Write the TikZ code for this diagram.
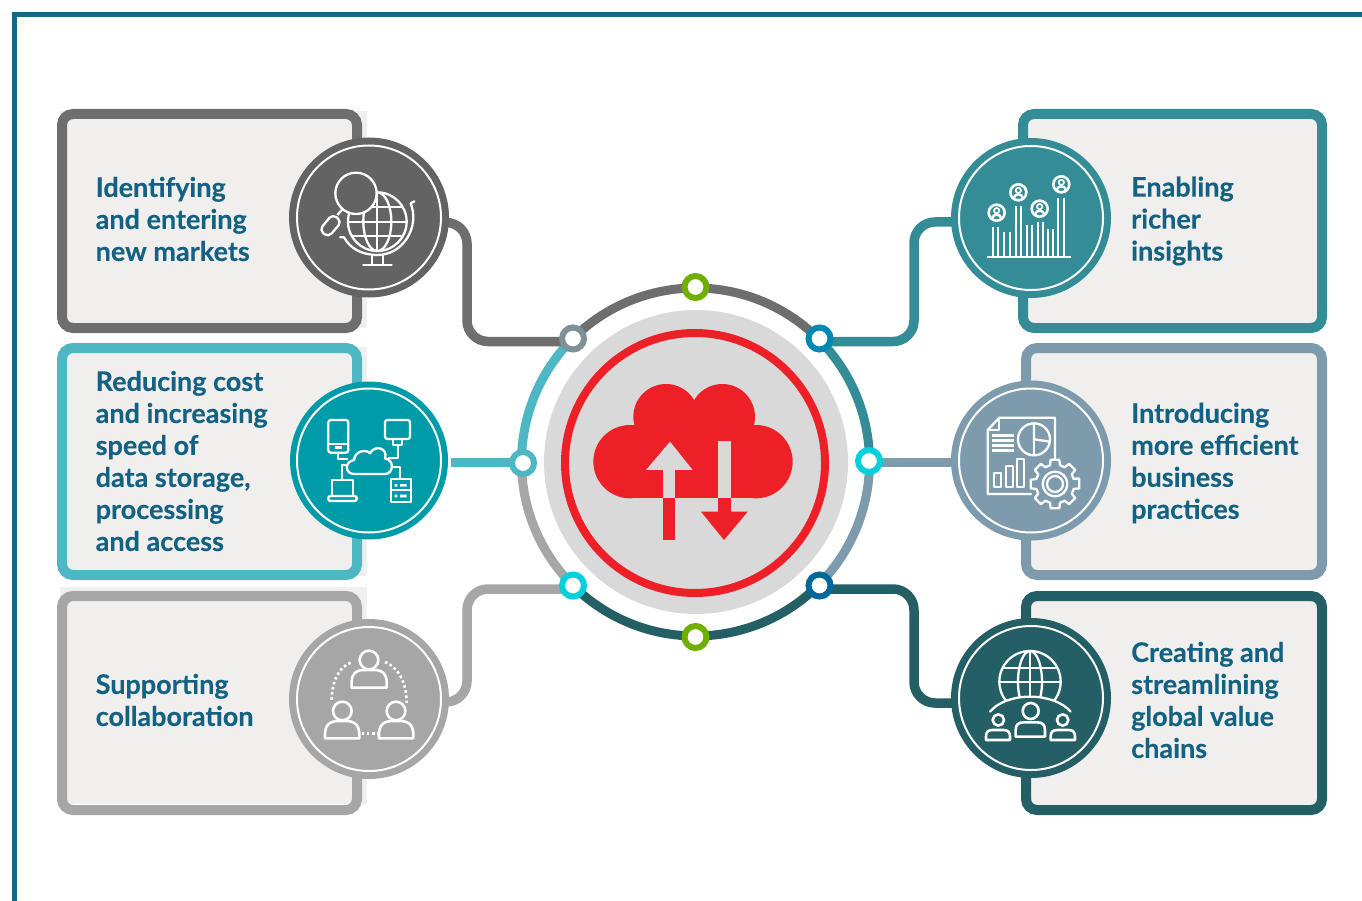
\documentclass[tikz,border=0pt]{standalone}
\usepackage{fontspec}
\setmainfont{Lato}[BoldFeatures={FakeBold=0.25}]
\usetikzlibrary{backgrounds}
\definecolor{framec}{HTML}{156585}
\definecolor{textc}{HTML}{136283}
\definecolor{cardfill}{HTML}{F0EFED}
\definecolor{cgray}{HTML}{6E6E6E}
\definecolor{hgray}{HTML}{636363}
\definecolor{ccyan}{HTML}{4DB8C4}
\definecolor{hcyan}{HTML}{009BA8}
\definecolor{clight}{HTML}{A6A6A6}
\definecolor{cteal}{HTML}{348D96}
\definecolor{cslate}{HTML}{7E9BAE}
\definecolor{cdark}{HTML}{245F66}
\definecolor{cred}{HTML}{EE2027}
\definecolor{cdisc}{HTML}{D9D9D9}
\definecolor{dgreen}{HTML}{6FAF00}
\definecolor{dblue}{HTML}{0087B5}
\definecolor{dnavy}{HTML}{00689A}
\definecolor{dcyan}{HTML}{00D0DC}
\definecolor{dgraygreen}{HTML}{7C9298}
\tikzset{
  cardbox/.style={rectangle,rounded corners=11pt,line width=10pt,inner sep=0pt},
  cardbg/.style={fill=cardfill,draw=none},
  hub/.style={circle,minimum size=160pt,inner sep=0pt},
  dotn/.style={circle,minimum size=22pt,inner sep=0pt,line width=6pt,fill=white,outer sep=0pt},
  conn/.style={line width=9.5pt,rounded corners=21pt},
  ringarc/.style={line width=9pt},
  lab/.style={anchor=west,align=left,text=textc,font=\fontsize{27}{32}\selectfont\bfseries,inner sep=0pt},
  ic/.style={white,line width=2.3pt,line join=round},
  zoomed/.style={x=0.33333pt,y=-0.33333pt}
}
% person: head cx cy r ; body x1 x2 y1 y2 ; corner (zoom units)
\newcommand{\persic}[8]{%
  \draw[ic,line width=2.6pt] (#1,#2) circle[radius=#3];
  \draw[ic,line width=2.6pt] (#4,#7) -- (#4,#6+#8) .. controls (#4,#6+0.3*#8) and (#4+0.3*#8,#6) .. (#4+#8,#6) -- (#5-#8,#6) .. controls (#5-0.3*#8,#6) and (#5,#6+0.3*#8) .. (#5,#6+#8) -- (#5,#7) -- cycle;}
\newcommand{\badgeic}[2]{%
  \draw[ic,line width=2.6pt] (#1,#2) circle[radius=24];
  \draw[ic,line width=1.7pt] (#1,#2-6) circle[radius=8];
  \draw[ic,line width=2.4pt] (#1-13,#2+16) .. controls (#1-13,#2+3) and (#1+13,#2+3) .. (#1+13,#2+16);}
\begin{document}
\begin{tikzpicture}[x=1pt,y=-1pt]
\useasboundingbox (0,0) rectangle (1362,901);
\draw[framec,line width=5pt] (14.5,901) -- (14.5,15) -- (1362,15);

% hubs
\node[hub,fill=hgray] (h1) at (369,217.5) {};
\node[hub,fill=hcyan,minimum size=158pt] (h2) at (369,460.5) {};
\node[hub,fill=clight] (h3) at (369,699) {};
\node[hub,fill=cteal] (h4) at (1031,218) {};
\node[hub,fill=cslate] (h5) at (1031,460.5) {};
\node[hub,fill=cdark] (h6) at (1031,698) {};
\foreach \h in {h1,h2,h3,h4,h5,h6}{\draw[white,line width=2pt] (\h) circle (72pt);}

% core
\node[circle,fill=cdisc,minimum size=304pt,inner sep=0pt] (core) at (696,462) {};
\node[circle,draw=cred,line width=8pt,minimum size=260pt,inner sep=0pt] (redring) at (695,463) {};
\coordinate (ringc) at (695.5,462);

% ring dots
\node[dotn,draw=dgreen] (dt) at (695.5,287) {};
\node[dotn,draw=dgraygreen] (d1) at (573,338.5) {};
\node[dotn,draw=dblue] (d4) at (819.5,338.5) {};
\node[dotn,draw=ccyan] (d2) at (523,463) {};
\node[dotn,draw=dcyan] (d5) at (869,461) {};
\node[dotn,draw=dcyan] (d3) at (573,585.5) {};
\node[dotn,draw=dnavy] (d6) at (819.5,585.5) {};
\node[dotn,draw=dgreen] (db) at (695.5,637) {};

\begin{pgfonlayer}{background}
% card backgrounds
\fill[cardbg] (60,111) rectangle (367,328);
\fill[cardbg] (60,347) rectangle (367,576);
\fill[cardbg] (60,587) rectangle (367,804);
\fill[cardbg] (1028,112) rectangle (1324,328);
\fill[cardbg] (1028,347) rectangle (1324,576);
\fill[cardbg] (1028,596) rectangle (1324,810);
% cards
\node[cardbox,draw=cgray,minimum width=295pt,minimum height=214pt] (c1) at (209.5,221) {};
\node[cardbox,draw=ccyan,minimum width=295pt,minimum height=227pt] (c2) at (209.5,461.5) {};
\node[cardbox,draw=clight,minimum width=295pt,minimum height=214pt] (c3) at (209.5,703) {};
\node[cardbox,draw=cteal,minimum width=299pt,minimum height=214pt] (c4) at (1172.5,221) {};
\node[cardbox,draw=cslate,minimum width=296pt,minimum height=227pt] (c5) at (1174,461.5) {};
\node[cardbox,draw=cdark,minimum width=296pt,minimum height=214pt] (c6) at (1174,703) {};
% ring
\draw[ringarc,cgray] (ringc) ++(45:174pt) arc[start angle=45,end angle=135,radius=174pt];
\draw[ringarc,cteal] (ringc) ++(0:174pt) arc[start angle=0,end angle=45,radius=174pt];
\draw[ringarc,cslate] (ringc) ++(0:174pt) arc[start angle=0,end angle=-45,radius=174pt];
\draw[ringarc,cdark] (ringc) ++(-45:174pt) arc[start angle=-45,end angle=-135,radius=174pt];
\draw[ringarc,clight] (ringc) ++(180:174pt) arc[start angle=180,end angle=225,radius=174pt];
\draw[ringarc,ccyan] (ringc) ++(135:174pt) arc[start angle=135,end angle=180,radius=174pt];
% connectors
\draw[conn,cgray] ([yshift=-5pt]h1.center) -- (467,222.5) -- (467,341.5) -- ([yshift=-3pt]d1.center);
\draw[line width=9pt,ccyan] (d2.center |- ringc) -- (451,462);
\draw[conn,clight] ([yshift=-3pt]h3.center) -- (467,702) -- (467,589) -- ([yshift=-3.5pt]d3.center);
\draw[conn,cteal] ([yshift=-4pt]h4.center) -- (914,222) -- (914,341.5) -- ([yshift=-3pt]d4.center);
\draw[line width=9pt,cslate] (d5.center |- ringc) -- (h5.center |- ringc);
\draw[conn,cdark] ([yshift=-5pt]h6.center) -- (914,703) -- (914,589) -- ([yshift=-3.5pt]d6.center);
\end{pgfonlayer}

% central cloud (zoom coordinates)
\begin{scope}[shift={(500,265)},zoomed]
\fill[cred] (390,590) circle[radius=110];
\fill[cred] (768,590) circle[radius=110];
\fill[cred] (498,455) circle[radius=98];
\fill[cred] (667,455) circle[radius=98];
\fill[cred] (390,480) rectangle (768,700);
\fill[cred] (490,700) rectangle (525,825);
\fill[cdisc] (490,615) rectangle (525,700);
\fill[cdisc] (510,530) -- (578,615) -- (438,615) -- cycle;
\fill[cdisc] (655,528) rectangle (692,700);
\fill[cred] (655,700) rectangle (692,740);
\fill[cred] (603,740) -- (743,740) -- (672,825) -- cycle;
\end{scope}

% icon 1: globe and magnifier
\begin{scope}[shift={(280,120)},zoomed]
\begin{scope}
\clip (292,305) circle[radius=88];
\draw[ic] (292,217) -- (292,393);
\draw[ic] (292,305) ellipse[x radius=42,y radius=88];
\draw[ic] (200,262) -- (385,262);
\draw[ic] (200,305) -- (385,305);
\draw[ic] (200,348) -- (385,348);
\end{scope}
\draw[ic] (292,305) circle[radius=88];
\draw[ic,line cap=round] (403,244) -- (392,250) .. controls (420,320) and (370,405) .. (292,405) .. controls (245,405) and (210,385) .. (192,352) -- (180,352);
\draw[ic,fill=hgray] (228,220) circle[radius=62];
\draw[ic,line cap=round] (250,436) -- (335,436);
\draw[ic] (275,405) -- (275,436);
\draw[ic] (310,405) -- (310,436);
\draw[ic] (190,265) -- (172,285);
\draw[ic,rounded corners=5pt] (158,282) -- (185,305) -- (145,352) -- (118,330) -- cycle;
\end{scope}

% icon 2: cloud network
\begin{scope}[shift={(280,370)},zoomed]
\draw[ic,rounded corners=2.5pt] (145,150) rectangle (205,248);
\draw[ic] (145,222) -- (205,222);
\fill[white] (165,229) rectangle (185,238);
\draw[ic,rounded corners=2.5pt] (315,150) rectangle (390,207);
\draw[ic] (340,207) rectangle (365,224);
\draw[ic] (222,312) .. controls (195,312) and (192,275) .. (222,270) .. controls (225,240) and (262,238) .. (270,250) .. controls (285,222) and (325,235) .. (315,265) .. controls (345,270) and (340,312) .. (315,312) -- cycle;
\draw[ic] (155,378) -- (155,330) -- (220,330) -- (220,378);
\draw[ic,rounded corners=2pt] (145,378) rectangle (230,393);
\draw[ic] (332,328) rectangle (392,395);
\draw[ic] (332,360) -- (392,360);
\fill[white] (344,342) rectangle (352,350) (360,342) rectangle (380,350) (344,374) rectangle (352,382) (360,374) rectangle (380,382);
\draw[ic] (175,248) -- (175,267) -- (205,267);
\draw[ic] (185,330) -- (185,285) -- (200,285);
\draw[ic] (355,224) -- (355,265) -- (325,265);
\draw[ic] (360,328) -- (360,290) -- (335,290);
\end{scope}

% icon 3: collaboration
\begin{scope}[shift={(280,610)},zoomed]
\persic{267}{150}{28}{215}{320}{180}{233}{38}
\persic{187}{303}{28}{135}{238}{333}{385}{42}
\persic{348}{303}{28}{297}{400}{333}{385}{42}
\draw[white,line width=2.6pt,dash pattern=on 2.6pt off 2.6pt] (212,158) .. controls (180,170) and (155,210) .. (155,272);
\draw[white,line width=2.6pt,dash pattern=on 2.6pt off 2.6pt] (315,156) .. controls (350,170) and (380,210) .. (380,280);
\draw[white,line width=2.6pt,dash pattern=on 2.6pt off 2.6pt] (245,370) -- (292,370);
\end{scope}

% icon 4: insights
\begin{scope}[shift={(940,130)},zoomed]
\draw[ic] (142,382) -- (392,382);
\foreach \xa/\xb/\t in {160/175/290,193/209/305,228/243/228,260/275/285,293/308/277,324/340/297,355/372/205}{
  \draw[ic,line width=2pt] (\xa,\t) -- (\xa,382);
  \draw[ic,line width=2pt] (\xb,\t) -- (\xb,382);
}
\badgeic{170}{248}
\badgeic{235}{187}
\badgeic{299}{236}
\badgeic{364}{163}
\end{scope}

% icon 5: report and gear
\begin{scope}[shift={(940,375)},zoomed]
\draw[ic] (275,357) -- (143,357) -- (143,165) -- (178,128) -- (345,128) -- (345,262);
\draw[ic] (143,165) -- (178,165) -- (178,128);
\foreach \yy in {182,197,212,227}{\draw[ic,line width=2.4pt] (155,\yy) -- (222,\yy);}
\draw[ic] (282,193) circle[radius=48];
\draw[ic] (282,145) -- (282,193) -- (330,200);
\draw[ic] (282,193) -- (282,241);
\draw[ic] (162,293) rectangle (182,337);
\draw[ic] (197,272) rectangle (218,337);
\draw[ic] (232,252) rectangle (253,337);
\begin{scope}[shift={(345,327)}]
\draw[ic,fill=cslate] (-13:74) \foreach \a in {0,45,...,315}{ -- (\a-10:74) -- (\a+10:74) -- (\a+15:58) -- (\a+30:58)} -- cycle;
\draw[ic] (0,0) circle[radius=37];
\draw[ic] (0,0) circle[radius=24];
\end{scope}
\end{scope}

% icon 6: global value chains
\begin{scope}[shift={(940,610)},zoomed]
\begin{scope}
\clip (150,305) .. controls (200,245) and (340,245) .. (392,305) -- (392,100) -- (150,100) -- cycle;
\draw[ic] (270,215) circle[radius=92];
\draw[ic] (270,215) ellipse[x radius=36,y radius=92];
\draw[ic] (270,120) -- (270,310);
\begin{scope}
\clip (270,215) circle[radius=92];
\draw[ic] (170,175) -- (370,175);
\draw[ic] (170,215) -- (370,215);
\end{scope}
\end{scope}
\draw[ic,line cap=round] (150,305) .. controls (200,245) and (340,245) .. (392,305);
\persic{272}{303}{24}{227}{315}{337}{380}{24}
\persic{175}{330}{17}{138}{210}{360}{390}{20}
\persic{368}{330}{17}{332}{405}{360}{390}{20}
\end{scope}

% labels
\node[lab] (t1) at (95.5,219) {Identifying\\and entering\\new markets};
\node[lab] (t2) at (95.5,461) {Reducing cost\\and increasing\\speed of\\data storage,\\processing\\and access};
\node[lab] (t3) at (95.5,700) {Supporting\\collaboration};
\node[lab] (t4) at (1131,221) {Enabling\\richer\\insights};
\node[lab] (t5) at (1131,463) {Introducing\\more efficient\\business\\practices};
\node[lab] (t6) at (1131,700) {Creating and\\streamlining\\global value\\chains};
\end{tikzpicture}
\end{document}
